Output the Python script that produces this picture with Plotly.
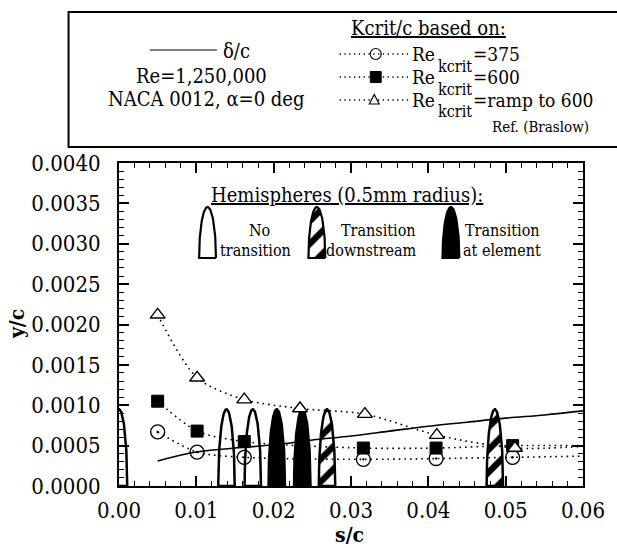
import numpy as np
import plotly.graph_objects as go

# ---------------------------------------------------------------- data ----
# boundary-layer thickness delta/c along the surface
delta_s = [0.005, 0.010, 0.015, 0.020, 0.025, 0.030, 0.035, 0.040, 0.045, 0.050, 0.055, 0.060]
delta_y = [0.00031, 0.00042, 0.00047, 0.00051, 0.00057, 0.00062, 0.00068, 0.00074, 0.00079, 0.00084, 0.00088, 0.00093]

# critical roughness height Kcrit/c
re375_s = [0.0050, 0.0101, 0.0162, 0.0316, 0.0410, 0.0509]
re375_y = [0.00067, 0.00042, 0.000355, 0.00033, 0.00034, 0.000355]
re600_s = [0.0050, 0.0101, 0.0162, 0.0316, 0.0410, 0.0509]
re600_y = [0.00105, 0.00068, 0.00055, 0.00047, 0.00047, 0.00050]
ramp_s = [0.0050, 0.0101, 0.0162, 0.0234, 0.0318, 0.0411, 0.0512]
ramp_y = [0.00212, 0.00134, 0.00107, 0.00096, 0.00089, 0.00063, 0.00047]

# fitted curves continue to the end of the axis
curve_end_s = 0.06
re375_end_y = 0.00037
re600_end_y = 0.00050
ramp_end_y = 0.00049

# hemispherical roughness elements (0.5 mm radius)
hemi_s = [0.0, 0.0139, 0.0173, 0.0204, 0.0237, 0.0269, 0.0486]
hemi_result = ["none", "none", "none", "element", "element", "downstream", "downstream"]
hemi_height = 0.00095

# ------------------------------------------------------------- layout -----
W, H = 617, 548
PX_L, PX_R, PX_T, PX_B = 119, 588, 163, 486
XMAX, YMAX = 0.06, 0.004
SERIF = "DejaVu Serif Condensed, DejaVu Serif, serif"
HEMI_HALF_PX = 8.3
KEY_ROWS = (54, 77, 100)


def paper_x(px):
    return (px - PX_L) / (PX_R - PX_L)


def paper_y(py):
    return (PX_B - py) / (PX_B - PX_T)


def data_x(px):
    return paper_x(px) * XMAX


def data_y(py):
    return paper_y(py) * YMAX


def arch(center, half, base, height, n=70):
    t = np.linspace(0.0, np.pi, n)
    xs = list(center + half * np.cos(t)) + [center + half]
    ys = list(base + height * np.sin(t)) + [base]
    return xs, ys


def arch_trace(xs, ys, kind, lw=2.5):
    common = dict(x=xs, y=ys, mode="lines", line=dict(color="black", width=lw),
                  showlegend=False, hoverinfo="skip")
    if kind == "element":
        return go.Scatter(fill="toself", fillcolor="black", **common)
    if kind == "downstream":
        return go.Scatter(fill="toself", fillcolor="white",
                          fillpattern=dict(shape="/", fgcolor="black", bgcolor="white",
                                           fgopacity=1, size=16, solidity=0.4),
                          **common)
    return go.Scatter(**common)


fig = go.Figure()

# roughness elements on the surface
half_w = HEMI_HALF_PX / (PX_R - PX_L) * XMAX
for s, kind in zip(hemi_s, hemi_result):
    xs, ys = arch(s, half_w, 0.0, hemi_height)
    fig.add_trace(arch_trace(xs, ys, kind))

# key for the element symbols
icon_half = data_x(PX_L + 8.5)
icon_base = data_y(258)
icon_h = data_y(207) - icon_base
for px, kind in [(208.5, "none"), (319, "downstream"), (454.5, "element")]:
    xs, ys = arch(data_x(px), icon_half, icon_base, icon_h)
    fig.add_trace(arch_trace(xs, ys, kind, lw=2.2))

# boundary-layer thickness
fig.add_trace(go.Scatter(x=delta_s, y=delta_y, mode="lines", line=dict(color="black", width=1.6),
                         line_shape="spline", showlegend=False, hoverinfo="skip"))

dotted = dict(color="black", width=1.6, dash="1.6px,4px")
series = [
    (re375_s, re375_y, re375_end_y,
     dict(symbol="circle-open-dot", size=14, color="black", line=dict(color="black", width=1.4))),
    (re600_s, re600_y, re600_end_y,
     dict(symbol="square", size=12, color="black", line=dict(color="black", width=1))),
    (ramp_s, ramp_y, ramp_end_y,
     dict(symbol="triangle-up", size=13, color="white", line=dict(color="black", width=1.4))),
]
for s, y, end_y, marker in series:
    fig.add_trace(go.Scatter(x=s + [curve_end_s], y=y + [end_y], mode="lines",
                             line=dotted, line_shape="spline", line_smoothing=0.8,
                             showlegend=False, hoverinfo="skip"))
for s, y, end_y, marker in series:
    fig.add_trace(go.Scatter(x=s, y=y, mode="markers", marker=marker,
                             showlegend=False, hoverinfo="skip"))

tickfont = dict(family=SERIF, size=22, color="black")
fig.update_layout(
    width=W, height=H,
    margin=dict(l=PX_L, r=W - PX_R, t=PX_T, b=H - PX_B, pad=0),
    paper_bgcolor="white", plot_bgcolor="white",
    font=dict(family=SERIF, color="black"),
    xaxis=dict(range=[0, XMAX], dtick=0.01, tickformat=".2f", ticks="inside", ticklen=10,
               tickwidth=1.5, tickcolor="black", showline=True, linewidth=2, linecolor="black",
               mirror="ticks", showgrid=False, zeroline=False, tickfont=tickfont,
               ticklabelstandoff=4,
               minor=dict(dtick=0.002, ticks="inside", ticklen=5, tickwidth=1, tickcolor="black",
                          showgrid=False)),
    yaxis=dict(range=[0, YMAX], dtick=0.0005, tickformat=".4f", ticks="inside", ticklen=10,
               tickwidth=1.5, tickcolor="black", showline=True, linewidth=2, linecolor="black",
               mirror="ticks", showgrid=False, zeroline=False, tickfont=tickfont,
               ticklabelstandoff=12,
               minor=dict(dtick=0.0001, ticks="inside", ticklen=5, tickwidth=1, tickcolor="black",
                          showgrid=False)),
)


# ------------------------------------------------------- annotations ------
def text(px, py, s, size=20, xanchor="center", **kw):
    fig.add_annotation(x=paper_x(px), y=paper_y(py), xref="paper", yref="paper", text=s,
                       showarrow=False, xanchor=xanchor, yanchor="middle", borderpad=0,
                       font=dict(family=SERIF, size=size, color="black"), **kw)


shapes = []
# key box
shapes.append(dict(type="rect", xref="paper", yref="paper", x0=paper_x(68), x1=paper_x(650),
                   y0=paper_y(147), y1=paper_y(12), line=dict(color="black", width=2),
                   fillcolor="rgba(0,0,0,0)"))
# delta/c sample line
shapes.append(dict(type="line", xref="paper", yref="paper", x0=paper_x(150), x1=paper_x(218),
                   y0=paper_y(50), y1=paper_y(50), line=dict(color="black", width=1.2)))
# Kcrit sample lines and symbols
for py in KEY_ROWS:
    shapes.append(dict(type="line", xref="paper", yref="paper", x0=paper_x(342), x1=paper_x(412),
                       y0=paper_y(py), y1=paper_y(py),
                       line=dict(color="black", width=1.3, dash="1.3px,3.5px")))
r0, r1, r2 = KEY_ROWS
shapes.append(dict(type="circle", xref="paper", yref="paper", x0=paper_x(373), x1=paper_x(384),
                   y0=paper_y(r0 + 5.5), y1=paper_y(r0 - 5.5), line=dict(color="black", width=1.2),
                   fillcolor="rgba(0,0,0,0)"))
shapes.append(dict(type="rect", xref="paper", yref="paper", x0=paper_x(373), x1=paper_x(384),
                   y0=paper_y(r1 + 5.5), y1=paper_y(r1 - 5.5), line=dict(color="black", width=1),
                   fillcolor="black"))
tri = [(372, r2 + 4), (382, r2 + 4), (377, r2 - 5.5)]
path = "M {} {} L {} {} L {} {} Z".format(*[v for px, py in tri for v in (paper_x(px), paper_y(py))])
shapes.append(dict(type="path", xref="paper", yref="paper", path=path,
                   line=dict(color="black", width=1.2), fillcolor="white"))
fig.update_layout(shapes=shapes)

text(238, 51, "δ/c")
text(202, 76, "Re=1,250,000")
text(207, 99, "NACA 0012, α=0 deg")
text(432, 28, "<u>Kcrit/c based on:</u>")
for py, val in zip(KEY_ROWS, ["=375", "=600", "=ramp to 600"]):
    text(414, py, "Re", size=19, xanchor="left")
    text(440, py + 12, "kcrit", size=16, xanchor="left")
    text(476, py, val, size=19, xanchor="left")
text(545, 127, "Ref. (Braslow)", size=15)

text(349, 195, "<u>Hemispheres (0.5mm radius):</u>")
text(261, 230, "No", size=16)
text(257, 250, "transition", size=16)
text(381, 230, "Transition", size=16)
text(374, 250, "downstream", size=16)
text(507, 230, "Transition", size=16)
text(506, 250, "at element", size=16)

text(15, 324, "<b>y/c</b>", size=21, textangle=-90)
text(352, 534, "<b>s/c</b>", size=21)

fig.write_html("out.html")
